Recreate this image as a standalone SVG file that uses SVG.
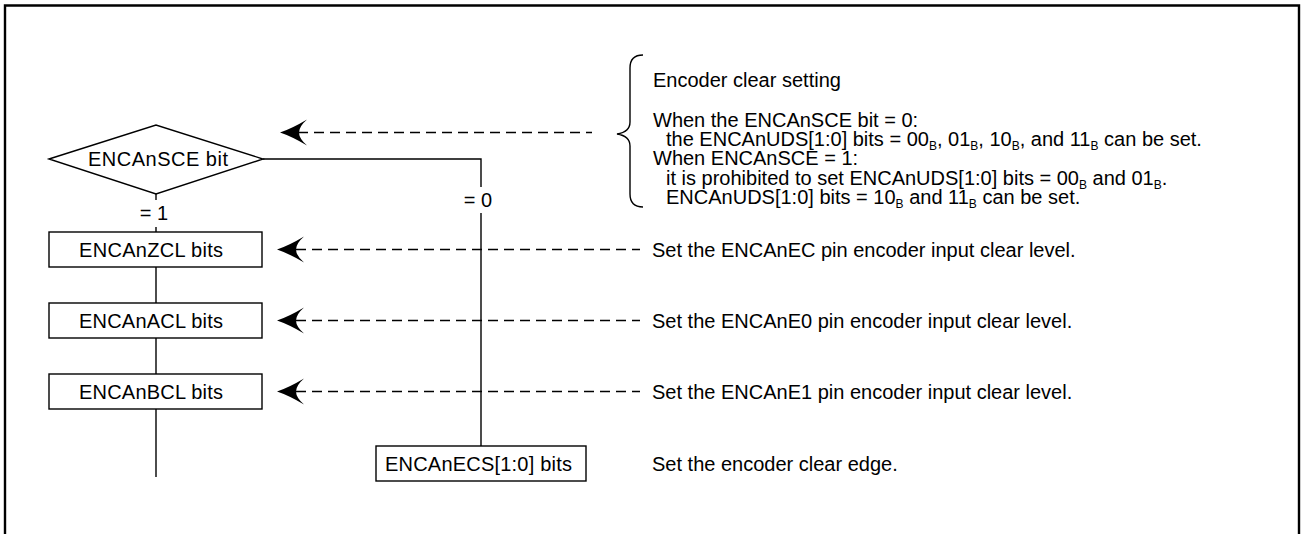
<svg xmlns="http://www.w3.org/2000/svg" width="1301" height="534" viewBox="0 0 1301 534">
<style>
  .t { font-family: "Liberation Sans", Arial, Helvetica, sans-serif; font-size: 20px; fill: #000; }
  .sub { font-size: 12px; }
  .ln { fill: none; stroke: #000; stroke-width: 1.4; }
  .box { fill: #fff; stroke: #000; stroke-width: 1.4; }
  .dash { fill: none; stroke: #000; stroke-width: 1.4; stroke-dasharray: 10 6; }
  .frame { fill: none; stroke: #000; stroke-width: 2.4; }
</style>
<defs>
  <path id="ah" d="M0,0 Q12,-4 27,-13 Q19,-6 19,0 Q19,6 27,13 Q12,4 0,0 Z" fill="#000"/>
</defs>
<rect x="0" y="0" width="1301" height="534" fill="#fff"/>
<path class="frame" d="M5,534 L5,5.5 L1299,5.5 L1299,534"/>

<g id="connectors">
  <path class="ln" d="M156,194 L156,200 M156,227 L156,232"/>
  <path class="ln" d="M156,267 L156,303"/>
  <path class="ln" d="M156,338 L156,374"/>
  <path class="ln" d="M156,409 L156,477"/>
  <path class="ln" d="M263,159 L481,159 L481,187 M481,213 L481,446"/>
  <text class="t" x="154" y="220" text-anchor="middle">= 1</text>
  <text class="t" x="478" y="207" text-anchor="middle">= 0</text>
  <path class="dash" d="M298,132.5 L592,132.5"/>
  <path class="dash" d="M296,249.5 L640,249.5"/>
  <path class="dash" d="M296,320.5 L640,320.5"/>
  <path class="dash" d="M296,391.5 L640,391.5"/>
  <use href="#ah" x="280" y="132.5"/>
  <use href="#ah" x="277" y="249.5"/>
  <use href="#ah" x="277" y="320.5"/>
  <use href="#ah" x="277" y="391.5"/>
</g>

<g id="node-sce">
  <polygon class="box" points="49,159 156,125 263,159 156,194"/>
  <text class="t" x="88" y="166" textLength="140" lengthAdjust="spacing">ENCAnSCE bit</text>
</g>
<g id="node-zcl">
  <rect class="box" x="49" y="232" width="213" height="35"/>
  <text class="t" x="79" y="257" textLength="144" lengthAdjust="spacing">ENCAnZCL bits</text>
</g>
<g id="node-acl">
  <rect class="box" x="49" y="303" width="213" height="35"/>
  <text class="t" x="79" y="328" textLength="144" lengthAdjust="spacing">ENCAnACL bits</text>
</g>
<g id="node-bcl">
  <rect class="box" x="49" y="374" width="213" height="35"/>
  <text class="t" x="79" y="399" textLength="144" lengthAdjust="spacing">ENCAnBCL bits</text>
</g>
<g id="node-ecs">
  <rect class="box" x="376" y="446" width="210" height="35"/>
  <text class="t" x="385" y="471" textLength="187" lengthAdjust="spacing">ENCAnECS[1:0] bits</text>
</g>

<g id="note-sce">
  <path class="ln" d="M643,55 Q630,55 630,68 L630,122 Q630,132 617,134 Q630,136 630,146 L630,194 Q630,207 643,207"/>
  <text class="t" x="653" y="87">Encoder clear setting</text>
  <text class="t" x="653" y="127">When the ENCAnSCE bit = 0:</text>
  <text class="t" x="666" y="146">the ENCAnUDS[1:0] bits = 00<tspan class="sub" dy="3.5">B</tspan><tspan dy="-3.5">, 01</tspan><tspan class="sub" dy="3.5">B</tspan><tspan dy="-3.5">, 10</tspan><tspan class="sub" dy="3.5">B</tspan><tspan dy="-3.5">, and 11</tspan><tspan class="sub" dy="3.5">B</tspan><tspan dy="-3.5"> can be set.</tspan></text>
  <text class="t" x="653" y="165">When ENCAnSCE = 1:</text>
  <text class="t" x="666" y="185">it is prohibited to set ENCAnUDS[1:0] bits = 00<tspan class="sub" dy="3.5">B</tspan><tspan dy="-3.5"> and 01</tspan><tspan class="sub" dy="3.5">B</tspan><tspan dy="-3.5">.</tspan></text>
  <text class="t" x="666" y="204">ENCAnUDS[1:0] bits = 10<tspan class="sub" dy="3.5">B</tspan><tspan dy="-3.5"> and 11</tspan><tspan class="sub" dy="3.5">B</tspan><tspan dy="-3.5"> can be set.</tspan></text>
</g>
<g id="note-zcl">
  <text class="t" x="652" y="257">Set the ENCAnEC pin encoder input clear level.</text>
</g>
<g id="note-acl">
  <text class="t" x="652" y="328">Set the ENCAnE0 pin encoder input clear level.</text>
</g>
<g id="note-bcl">
  <text class="t" x="652" y="399">Set the ENCAnE1 pin encoder input clear level.</text>
</g>
<g id="note-ecs">
  <text class="t" x="652" y="471">Set the encoder clear edge.</text>
</g>
</svg>
